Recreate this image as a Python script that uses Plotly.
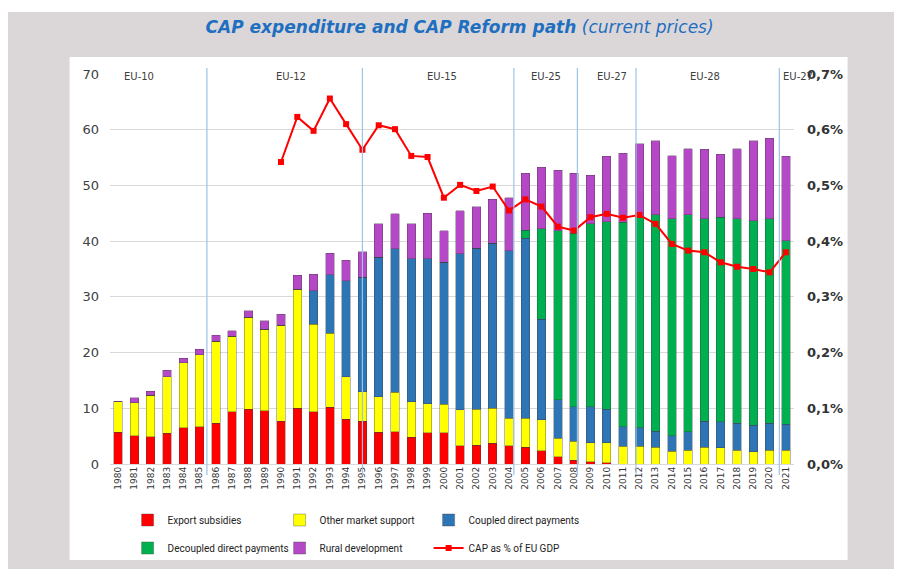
import plotly.graph_objects as go

years = list(range(1980, 2022))
year_labels = [str(y) for y in years]

export_subsidies = [5.7, 5.1, 4.9, 5.5, 6.5, 6.7, 7.3, 9.4, 9.8, 9.6, 7.7, 10.0, 9.4, 10.2, 8.0, 7.7,
                    5.7, 5.8, 4.8, 5.6, 5.6, 3.3, 3.4, 3.7, 3.3, 3.0, 2.4, 1.3, 0.7, 0.4, 0.2, 0.0,
                    0.0, 0.0, 0.0, 0.0, 0.0, 0.0, 0.0, 0.0, 0.0, 0.0]
other_market_support = [5.5, 5.9, 7.4, 10.2, 11.7, 12.9, 14.7, 13.5, 16.5, 14.6, 17.2, 21.4, 15.7, 13.3,
                        7.7, 5.3, 6.4, 7.1, 6.4, 5.2, 5.1, 6.4, 6.4, 6.3, 4.9, 5.2, 5.5, 3.3, 3.4, 3.4,
                        3.6, 3.2, 3.2, 3.0, 2.3, 2.5, 3.0, 2.9, 2.5, 2.2, 2.5, 2.5]
coupled_direct = [0, 0, 0, 0, 0, 0, 0, 0, 0, 0, 0, 0, 6.0, 10.5, 17.2, 20.5, 25.0, 25.7, 25.6, 26.0,
                  25.5, 28.0, 28.9, 29.6, 30.1, 32.3, 18.1, 6.9, 6.2, 6.5, 6.0, 3.5, 3.3, 2.9, 2.8,
                  3.3, 4.7, 4.7, 4.8, 4.8, 4.8, 4.6]
decoupled_direct = [0, 0, 0, 0, 0, 0, 0, 0, 0, 0, 0, 0, 0, 0, 0, 0, 0, 0, 0, 0, 0, 0, 0, 0, 0,
                    1.5, 16.2, 30.4, 31.1, 32.8, 33.7, 36.7, 37.9, 38.8, 38.9, 38.9, 36.3, 36.7,
                    36.7, 36.7, 36.7, 33.0]
rural_development = [0.1, 0.9, 0.8, 1.1, 0.8, 1.0, 1.1, 1.0, 1.2, 1.5, 2.0, 2.5, 3.0, 3.8, 3.7, 4.6,
                     6.0, 6.3, 6.3, 8.2, 5.7, 7.8, 7.5, 7.9, 9.5, 10.2, 11.1, 10.8, 10.8, 8.7, 11.7,
                     12.4, 13.1, 13.3, 11.3, 11.9, 12.5, 11.3, 12.6, 14.3, 14.5, 15.1]
cap_pct_gdp = [None] * 10 + [0.542, 0.623, 0.598, 0.656, 0.610, 0.564, 0.608, 0.601, 0.553, 0.551,
                             0.478, 0.501, 0.490, 0.498, 0.455, 0.475, 0.462, 0.426, 0.419, 0.443,
                             0.449, 0.442, 0.447, 0.431, 0.395, 0.383, 0.380, 0.362, 0.354, 0.350,
                             0.344, 0.380]

left_ticks = [0, 10, 20, 30, 40, 50, 60, 70]
right_tickvals = [0, 0.1, 0.2, 0.3, 0.4, 0.5, 0.6, 0.7]
right_ticktext = ["0,0%", "0,1%", "0,2%", "0,3%", "0,4%", "0,5%", "0,6%", "0,7%"]

enlargement_labels = ["EU-10", "EU-12", "EU-15", "EU-25", "EU-27", "EU-28", "EU-27"]
enlargement_label_x = [1981.3, 1990.6, 1999.9, 2006.25, 2010.3, 2016.05, 2020.7]
enlargement_lines_x = [1985.45, 1995.0, 2004.3, 2008.2, 2011.8, 2020.6]

# figure is placed by the page at an 8px offset; all pixel positions below are figure pixels
W, H = 894, 561
ML, MR, MT, MB = 102.4, 107.6, 66, 105
PW = W - ML - MR
PH = H - MT - MB


def px_x(px):
    return (px - ML) / PW


def px_y(py):
    return (H - MB - py) / PH


fig = go.Figure()
bar_series = [
    ("Export subsidies", export_subsidies, "#ff0000", "legend"),
    ("Other market support", other_market_support, "#ffff00", "legend2"),
    ("Coupled direct payments", coupled_direct, "#2e75b6", "legend3"),
    ("Decoupled direct payments", decoupled_direct, "#00b050", "legend4"),
    ("Rural development", rural_development, "#b548c6", "legend5"),
]
for name, vals, col, lg in bar_series:
    fig.add_trace(go.Bar(
        x=years, y=vals, name=name,
        marker=dict(color=col, line=dict(color="rgba(60,60,60,0.6)", width=0.6)),
        width=0.52, legend=lg, showlegend=True,
    ))

fig.add_trace(go.Scatter(
    x=years, y=cap_pct_gdp, name="CAP as % of EU GDP", yaxis="y2", mode="lines+markers",
    line=dict(color="#ff0000", width=2), marker=dict(symbol="square", size=6, color="#ff0000"),
    legend="legend6", connectgaps=False, showlegend=True,
))

shapes = [
    dict(type="rect", xref="paper", yref="paper", x0=px_x(-2), x1=px_x(W + 2), y0=px_y(-2), y1=px_y(4),
         fillcolor="#ffffff", line=dict(width=0), layer="below"),
    dict(type="rect", xref="paper", yref="paper", x0=px_x(62), x1=px_x(840), y0=px_y(49), y1=px_y(552),
         fillcolor="#ffffff", line=dict(width=0), layer="below"),
]
for lx in enlargement_lines_x:
    shapes.append(dict(type="line", xref="x", yref="paper", x0=lx, x1=lx, y0=px_y(467), y1=px_y(60),
                       line=dict(color="#9dc3e6", width=1.2)))

annotations = []
for txt, lx in zip(enlargement_labels, enlargement_label_x):
    last = lx > 2020
    annotations.append(dict(x=lx, y=px_y(68), xref="x", yref="paper", text=txt, showarrow=False,
                            xanchor="left" if last else "center", yanchor="middle",
                            font=dict(size=10, color="#404040", family="DejaVu Sans")))

legend_font = dict(size=10, color="#222222", family="Roboto")
legend_pos = {
    "legend": (120, 512), "legend2": (272, 512), "legend3": (421, 512),
    "legend4": (120, 540), "legend5": (272, 540), "legend6": (421, 540),
}
legend_layout = {}
for key, (lx, ly) in legend_pos.items():
    legend_layout[key] = dict(orientation="h", x=px_x(lx), y=px_y(ly), xanchor="left", yanchor="middle",
                              font=legend_font, bgcolor="rgba(0,0,0,0)", borderwidth=0, visible=True)

fig.update_layout(
    width=W, height=H, showlegend=True,
    margin=dict(l=ML, r=MR, t=MT, b=MB, autoexpand=False),
    paper_bgcolor="#dbd7d9", plot_bgcolor="rgba(0,0,0,0)",
    barmode="stack",
    title=dict(text="<b><i>CAP expenditure and CAP Reform path</i></b> <i>(current prices)</i>",
               x=px_x(452), xref="paper", xanchor="center", y=1 - 19 / H, yref="container", yanchor="middle",
               font=dict(family="DejaVu Sans", size=17, color="#1f6fc0")),
    xaxis=dict(range=[1979.5, 2021.5], tickmode="array", tickvals=years, ticktext=year_labels,
               tickangle=-90, tickfont=dict(size=9, color="#333333", family="DejaVu Sans"),
               showgrid=False, zeroline=False, showline=False, ticks="", automargin=False),
    yaxis=dict(range=[0, 70], tickmode="array", tickvals=left_ticks, showgrid=True, gridcolor="#d9d9d9",
               gridwidth=1, zeroline=True, zerolinecolor="#d9d9d9", zerolinewidth=1, automargin=False,
               tickfont=dict(size=13, color="#404040", family="DejaVu Sans"), ticklabelstandoff=10),
    yaxis2=dict(range=[0, 0.7], overlaying="y", side="right", tickmode="array", tickvals=right_tickvals,
                ticktext=right_ticktext, showgrid=False, zeroline=False, ticklabelstandoff=12, automargin=False,
                tickfont=dict(size=13, color="#333333", family="DejaVu Sans", weight="bold")),
    shapes=shapes,
    annotations=annotations,
    **legend_layout,
)

fig.write_html("out.html")
